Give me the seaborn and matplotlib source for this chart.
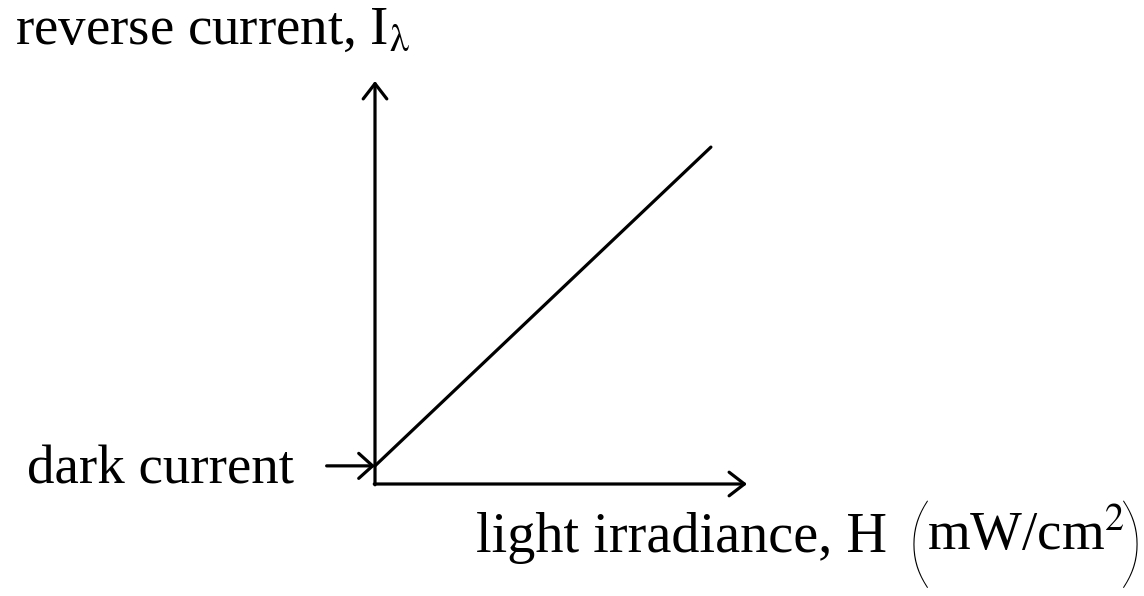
import matplotlib
matplotlib.use("Agg")
import matplotlib.pyplot as plt
import seaborn as sns
import pandas as pd

# ---- data (schematic characteristic) ----
irradiance = [0.0, 9.03]          # H, arbitrary units along x axis (0..10)
reverse_current = [0.45, 8.36]    # I_lambda, arbitrary units along y axis (0..10)
dark_current = 0.45
y_label = r"reverse current, I$_{\mathrm{\lambda}}$"
x_label = "light irradiance, H"
unit_label = r"mW/cm$^{2}$"
dark_label = "dark current"

sns.set_theme(style="white")
plt.rcParams['font.family'] = ['Liberation Serif', 'DejaVu Serif']
plt.rcParams['mathtext.fontset'] = 'stix'

W, H = 1144, 596
fig = plt.figure(figsize=(W / 100, H / 100), dpi=100)
fig.patch.set_facecolor("white")

ox, oy = 375, 484      # origin in pixels
x_tip, y_tip = 747, 81
ax = fig.add_axes([ox / W, (H - oy) / H, (x_tip - ox) / W, (oy - y_tip) / H])
ax.set_xlim(0, 10)
ax.set_ylim(0, 10)
ax.axis("off")

df = pd.DataFrame({"H": irradiance, "I": reverse_current})
sns.lineplot(data=df, x="H", y="I", ax=ax, color="black", linewidth=2.3,
             solid_capstyle="round", clip_on=False)

def arrow(hl=1.1, hw=0.85):
    return dict(arrowstyle=f"->,head_length={hl},head_width={hw}", color="black",
                lw=2.3, mutation_scale=10, shrinkA=0, shrinkB=0, capstyle="round",
                joinstyle="round")

ax.annotate("", xy=(10, 0), xytext=(-0.02, 0), arrowprops=arrow(), annotation_clip=False)
ax.annotate("", xy=(0, 10), xytext=(0, -0.02), arrowprops=arrow(), annotation_clip=False)
ax.annotate("", xy=(0, dark_current), xytext=(-1.3, dark_current),
            arrowprops=arrow(1.0, 0.9), annotation_clip=False)

def px(x, y):
    return x / W, 1 - y / H

fs = 39.5
fig.text(*px(15, 44), y_label, fontsize=fs, ha="left", va="baseline", color="black")
fig.text(*px(27, 483), dark_label, fontsize=fs, ha="left", va="baseline", color="black")
fig.text(*px(476, 552), x_label, fontsize=40.5, ha="left", va="baseline", color="black")
fig.text(*px(927, 550), unit_label, fontsize=fs, ha="left", va="baseline", color="black")
# tall thin parentheses around the unit
paren_kw = dict(fontsize=72, family=["Lato", "DejaVu Sans"], fontweight=200,
                va="baseline", color="black")
fig.text(*px(907, 576), "(", ha="left", **paren_kw)
fig.text(*px(1144, 576), ")", ha="right", **paren_kw)

fig.savefig("out.png", dpi=100, facecolor="white")
